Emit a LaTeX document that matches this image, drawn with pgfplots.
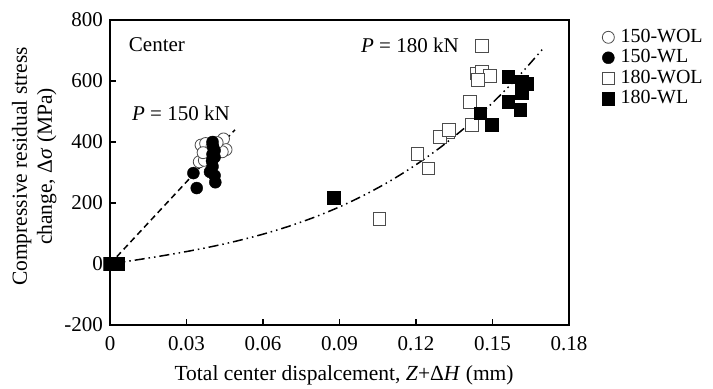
\documentclass[border=0pt]{standalone}
\usepackage{pgfplots}
\pgfplotsset{compat=1.18}
\usepackage{fontspec}
\setmainfont{Liberation Serif}
\begin{document}
\fontsize{21}{24}\selectfont
\begin{tikzpicture}
\begin{axis}[
  scale only axis, width=459pt, height=305pt,
  xmin=0, xmax=0.18, ymin=-200, ymax=800,
  xtick={0,0.03,0.06,0.09,0.12,0.15,0.18},
  ytick={-200,0,200,400,600,800},
  xticklabels={0,0.03,0.06,0.09,0.12,0.15,0.18},
  tick pos=left, tick align=inside,
  major tick length=6pt,
  axis line style={line width=1.4pt},
  every tick/.style={line width=1.2pt, black},
  /pgf/number format/assume math mode=true,
  ticklabel style={font=\fontsize{21}{24}\selectfont},
  xticklabel style={yshift=-4pt},
  yticklabel style={/pgf/number format/1000 sep={}},
  xlabel={Total center dispalcement, \textit{Z}+Δ\textit{H} (mm)},
  xlabel style={at={(rel axis cs:0.51,-0.165)}, anchor=center, font=\fontsize{21.5}{24}\selectfont},
  ylabel={Compressive residual stress\\change, Δ\textit{σ} (MPa)},
  ylabel style={at={(rel axis cs:-0.165,0.52)}, anchor=center, align=center, rotate=0, font=\fontsize{21.5}{25}\selectfont},
  legend style={at={(rel axis cs:1.065,0.984)}, anchor=north west, draw=none, fill=none,
    font=\fontsize{20}{21}\selectfont, row sep=0pt, legend cell align=left},
  legend image code/.code={\path (0cm,0cm) (0.55cm,0cm); \draw[#1] plot coordinates {(0.2cm,0cm)};},
  clip=false,
]
\addplot[only marks, mark=*, mark size=6pt, mark options={draw=gray!60!black, fill=white, line width=0.8pt}]
coordinates {
(0,0) (0.0357,390) (0.0375,395) (0.0445,410) (0.0455,375) (0.035,335) (0.037,340)
(0.044,368) (0.040,385) (0.042,398) (0.0365,365)
};
\addlegendentry{150-WOL}
\addplot[only marks, mark=*, mark size=6pt, mark options={draw=black, fill=black}]
coordinates {
(0,0) (0.0402,400) (0.0404,385) (0.0410,372) (0.0402,360) (0.0410,350) (0.0400,338)
(0.0402,320) (0.0392,302) (0.0410,290) (0.0413,268) (0.0327,298) (0.0340,249)
};
\addlegendentry{150-WL}
\addplot[only marks, mark=square*, mark size=6.3pt, mark options={draw=gray!60!black, fill=white, line width=0.8pt}]
coordinates {
(0,0) (0.1458,715) (0.1438,625) (0.1458,630) (0.1490,617) (0.1443,603) (0.1412,532)
(0.1418,456) (0.1327,434) (0.1294,417) (0.1330,440) (0.1205,361) (0.1248,314) (0.1056,147)
};
\addlegendentry{180-WOL}
\addplot[only marks, mark=square*, mark size=6.3pt, mark options={draw=black, fill=black}]
coordinates {
(0,0) (0.003,0) (0.1562,614) (0.1614,598) (0.1634,592) (0.1614,560) (0.1562,532)
(0.1608,505) (0.1451,494) (0.1497,456) (0.0878,217)
};
\addlegendentry{180-WL}
\addplot[forget plot, black, line width=1.5pt, dash pattern=on 6pt off 4pt]
coordinates {(0,0) (0.049,440)};
\addplot[forget plot, black, line width=1.5pt, smooth, dash pattern=on 10pt off 4pt on 1.5pt off 4pt on 1.5pt off 4pt]
coordinates {
(0,0) (0.01,12.8) (0.02,26.2) (0.03,40.8) (0.04,57.2) (0.05,76.0) (0.06,97.8)
(0.07,123.3) (0.08,152.9) (0.09,187.3) (0.10,227.2) (0.11,273.0) (0.12,325.5)
(0.13,385.2) (0.14,452.6) (0.15,528.5) (0.16,613.5) (0.17,708.0)
};
\node[anchor=center] at (axis cs:0.0184,718) {Center};
\node[anchor=center] at (axis cs:0.1176,718) {\textit{P} = 180 kN};
\node[anchor=center] at (axis cs:0.0278,495) {\textit{P} = 150 kN};
\coordinate (bbsw) at (rel axis cs:-0.2397,-0.2098);
\coordinate (bbne) at (rel axis cs:1.3137,1.0656);
\end{axis}
\pgfresetboundingbox
\path[use as bounding box] (bbsw) rectangle (bbne);
\end{tikzpicture}
\end{document}
